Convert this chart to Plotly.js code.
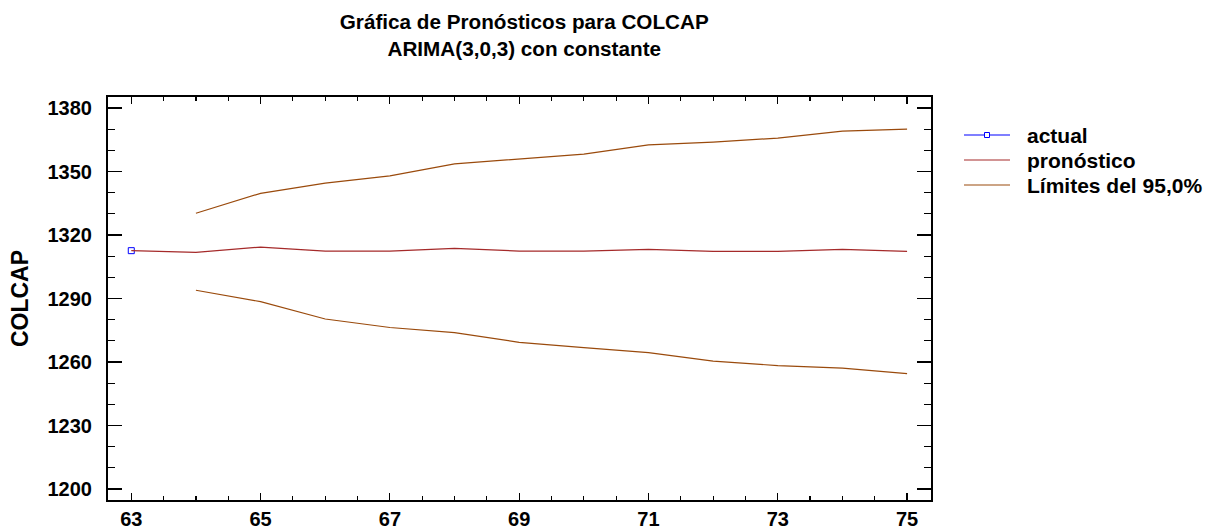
<!DOCTYPE html>
<html>
<head>
<meta charset="utf-8">
<script src="https://cdn.plot.ly/plotly-3.0.1.min.js"></script>
<style>
  html, body { margin: 0; padding: 0; background: #ffffff; }
  #chart { width: 1208px; height: 531px; }
</style>
</head>
<body>
<div id="chart"></div>
<script>
// Forecast periods and values for the COLCAP index
const actualPeriods = [63];
const actualValues = [1312.6];

const forecastPeriods = [63, 64, 65, 66, 67, 68, 69, 70, 71, 72, 73, 74, 75];
const forecastValues = [1312.6, 1311.8, 1314.3, 1312.4, 1312.4, 1313.7, 1312.4,
                        1312.4, 1313.2, 1312.3, 1312.3, 1313.2, 1312.3];

const limitPeriods = [64, 65, 66, 67, 68, 69, 70, 71, 72, 73, 74, 75];
const upperLimits = [1330.3, 1339.7, 1344.5, 1347.9, 1353.6, 1356.0,
                     1358.2, 1362.6, 1363.9, 1365.8, 1369.1, 1370.0];
const lowerLimits = [1293.9, 1288.5, 1280.3, 1276.3, 1273.9, 1269.3,
                     1266.8, 1264.4, 1260.4, 1258.3, 1257.1, 1254.5];

const seriesNames = ['actual', 'pronóstico', 'Límites del 95,0%'];
const chartTitle = 'Gráfica de Pronósticos para COLCAP<br>ARIMA(3,0,3) con constante';
const yTitle = 'COLCAP';

const FONT = 'Liberation Sans, Arial, Helvetica, sans-serif';
const actualColor = '#0000ff';
const forecastColor = '#a52a2a';
const limitColor = '#9a4a0c';
const seriesColors = [actualColor, forecastColor, limitColor];

// Plot area in pixels (used to place the side key in paper units)
const M = { l: 108, r: 277, t: 97, b: 31 };
const W = 1208, H = 531;
const plotW = W - M.l - M.r, plotH = H - M.t - M.b;
const px = v => (v - M.l) / plotW;
const py = v => (H - M.b - v) / plotH;

const traces = [
  {
    x: actualPeriods, y: actualValues, name: seriesNames[0],
    type: 'scatter', mode: 'lines+markers',
    line: { color: actualColor, width: 1 },
    marker: { symbol: 'square-open', size: 6, color: actualColor, line: { width: 1 } }
  },
  {
    x: forecastPeriods, y: forecastValues, name: seriesNames[1],
    type: 'scatter', mode: 'lines',
    line: { color: forecastColor, width: 1.2 }
  },
  {
    x: limitPeriods, y: upperLimits, name: seriesNames[2],
    type: 'scatter', mode: 'lines',
    line: { color: limitColor, width: 1.2 }
  },
  {
    x: limitPeriods, y: lowerLimits, name: seriesNames[2],
    type: 'scatter', mode: 'lines',
    line: { color: limitColor, width: 1.2 }
  }
];

// Side key: a line sample and a bold label per series, rows 25 px apart
const keyRows = [135, 160, 185];
const keyShapes = [];
const keyNotes = [];
seriesNames.forEach((name, i) => {
  keyShapes.push({
    type: 'line', xref: 'paper', yref: 'paper',
    x0: px(964), x1: px(1010), y0: py(keyRows[i]), y1: py(keyRows[i]),
    line: { color: seriesColors[i], width: 1.2 }
  });
  keyNotes.push({
    text: name, xref: 'paper', yref: 'paper',
    x: px(1025), y: py(keyRows[i]), xanchor: 'left', yanchor: 'middle',
    showarrow: false,
    font: { family: FONT, size: 21, weight: 'bold', color: '#000000' }
  });
});
keyShapes.push({
  type: 'rect', xref: 'paper', yref: 'paper',
  x0: px(984.5), x1: px(989.5), y0: py(keyRows[0] + 2.5), y1: py(keyRows[0] - 2.5),
  line: { color: actualColor, width: 1 }, fillcolor: '#ffffff'
});

const layout = {
  width: W, height: H,
  paper_bgcolor: '#ffffff', plot_bgcolor: '#ffffff',
  margin: M,
  font: { family: FONT, color: '#000000', size: 20, weight: 'bold' },
  title: {
    text: chartTitle,
    font: { family: FONT, size: 20.7, weight: 'bold', color: '#000000' },
    x: 0.434, xref: 'container', xanchor: 'center',
    y: 0.945, yref: 'container', yanchor: 'top'
  },
  showlegend: false,
  shapes: keyShapes,
  annotations: keyNotes,
  xaxis: {
    range: [62.64, 75.37],
    tick0: 63, dtick: 2, tickmode: 'linear',
    ticks: 'inside', ticklen: 7, tickwidth: 1.2, tickcolor: '#000000',
    minor: { dtick: 0.5, ticks: 'inside', ticklen: 4, tickwidth: 1.2, tickcolor: '#000000' },
    showline: true, linecolor: '#000000', linewidth: 2, mirror: 'allticks',
    showgrid: false, zeroline: false,
    tickfont: { family: FONT, size: 20, weight: 'bold', color: '#000000' }
  },
  yaxis: {
    range: [1194.8, 1385.2],
    tick0: 1200, dtick: 30, tickmode: 'linear',
    ticks: 'inside', ticklen: 14, tickwidth: 1.2, tickcolor: '#000000',
    minor: { dtick: 10, ticks: 'inside', ticklen: 7, tickwidth: 1.2, tickcolor: '#000000' },
    showline: true, linecolor: '#000000', linewidth: 2, mirror: 'allticks',
    showgrid: false, zeroline: false,
    ticklabelstandoff: 10,
    tickfont: { family: FONT, size: 20, weight: 'bold', color: '#000000' },
    title: { text: yTitle, standoff: 12, font: { family: FONT, size: 23, weight: 'bold', color: '#000000' } }
  }
};

Plotly.newPlot('chart', traces, layout, { staticPlot: true, displayModeBar: false });
</script>
</body>
</html>
